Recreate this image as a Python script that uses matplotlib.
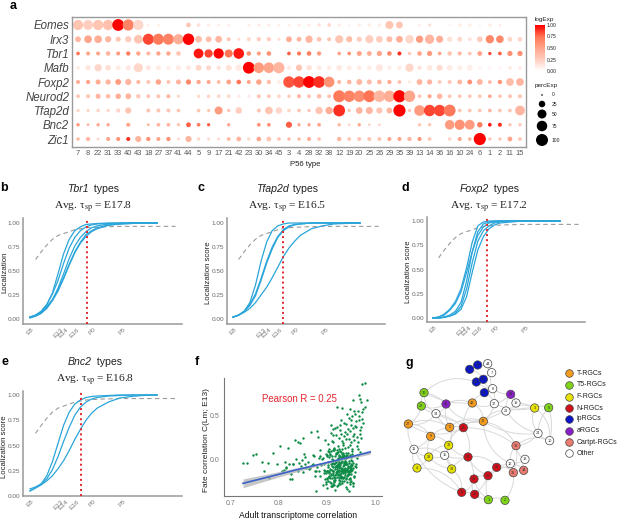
import numpy as np
import matplotlib
matplotlib.use("Agg")
import matplotlib.pyplot as plt
from matplotlib.colors import LinearSegmentedColormap
from matplotlib.patches import FancyArrowPatch

plt.rcParams["font.family"] = ["Liberation Sans", "DejaVu Sans"]
plt.rcParams["mathtext.fontset"] = "stix"

W, H = 617, 521

#----------PANEL A DATA----------
p56_types = ["7", "8", "22", "31", "33", "40", "43", "18", "27", "37", "41", "44", "5", "9", "17",
             "21", "42", "23", "30", "34", "45", "3", "4", "28", "32", "38", "12", "19", "20", "25",
             "26", "29", "35", "39", "13", "14", "36", "16", "10", "24", "6", "1", "2", "11", "15"]
genes = ["Eomes", "Irx3", "Tbr1", "Mafb", "Foxp2", "Neurod2", "Tfap2d", "Bnc2", "Zic1"]

eomes_perc = [50, 45, 50, 52, 70, 62, 50, 1, 1, 0, 0, 6, 3, 2, 1, 1, 0, 1, 2, 2, 1, 1, 2, 2, 2, 3, 2, 1, 2, 2, 2, 28, 18, 0, 1, 2, 0, 1, 2, 2, 1, 2, 1, 0, 0]
eomes_exp = [.3, .25, .3, .33, 1, .68, .2, .1, .1, 0, 0, .3, .15, .1, .1, .1, 0, .1, .1, .1, .1, .1, .1, .1, .15, .2, .1, .05, .1, .1, .1, .3, .3, 0, .1, .15, 0, .05, .1, .1, .05, .1, .1, 0, 0]
irx3_perc = [12, 25, 25, 15, 8, 15, 35, 60, 60, 60, 50, 65, 18, 12, 18, 4, 2, 4, 5, 5, 2, 12, 7, 22, 7, 4, 28, 14, 9, 28, 18, 13, 18, 32, 22, 40, 20, 9, 7, 3, 12, 30, 24, 7, 6]
irx3_exp = [.4, .5, .45, .4, .3, .25, .3, .85, .72, .68, .45, 1, .35, .35, .4, .3, .15, .2, .25, .25, .15, .45, .4, .4, .3, .3, .3, .35, .25, .25, .25, .35, .45, .2, .55, .4, .45, .15, .2, .15, .25, .65, .65, .2, .2]
tbr1_perc = [3, 4, 4, 6, 4, 5, 5, 4, 5, 5, 6, 0, 45, 30, 50, 28, 55, 6, 4, 6, 0, 3, 4, 6, 5, 0, 3, 3, 8, 7, 9, 6, 4, 2, 6, 9, 3, 6, 4, 3, 7, 2, 3, 9, 9]
tbr1_exp = [.75, .5, .5, .4, .55, .7, .5, .4, .5, .5, .3, 0, .95, .85, 1, .75, .95, .6, .55, .6, 0, .8, .75, .7, .55, 0, .5, .6, .5, .45, .5, .65, .9, .3, .5, .55, .5, .3, .4, .3, .5, .85, .8, .6, .6]
mafb_perc = [3, 10, 22, 12, 8, 7, 38, 8, 8, 5, 9, 6, 12, 8, 5, 12, 18, 70, 55, 55, 62, 5, 15, 10, 7, 5, 10, 7, 6, 6, 20, 4, 5, 30, 5, 10, 13, 12, 9, 13, 5, 3, 2, 3, 3]
mafb_exp = [.1, .12, .2, .15, .1, .12, .2, .12, .1, .08, .1, .12, .2, .2, .15, .15, .1, 1, .55, .5, .4, .1, .3, .15, .1, .1, .12, .1, .1, .1, .12, .1, .1, .2, .15, .12, .18, .1, .08, .08, .05, .05, .05, .1, .1]
foxp2_perc = [4, 5, 8, 9, 12, 14, 4, 4, 10, 4, 8, 9, 5, 4, 3, 7, 6, 4, 10, 5, 3, 65, 65, 70, 68, 55, 4, 6, 12, 8, 6, 5, 3, 2, 12, 9, 3, 4, 7, 7, 12, 3, 5, 25, 25]
foxp2_exp = [.45, .5, .45, .4, .55, .4, .4, .3, .5, .3, .4, .65, .5, .5, .4, .5, .75, .5, .5, .35, .1, .82, .85, 1, .9, .6, .4, .4, .4, .35, .4, .45, .35, .1, .4, .4, .3, .3, .4, .6, .4, .4, .6, .35, .4]
neurod2_perc = [3, 4, 8, 6, 10, 12, 5, 4, 4, 4, 2, 0, 2, 3, 3, 3, 2, 2, 4, 3, 3, 2, 4, 4, 6, 4, 72, 65, 65, 70, 65, 65, 75, 65, 3, 4, 10, 3, 3, 3, 3, 3, 3, 4, 4]
neurod2_exp = [.3, .3, .4, .35, .45, .4, .3, .3, .3, .4, .2, 0, .2, .2, .2, .2, .1, .1, .3, .3, .2, .3, .4, .3, .35, .3, .72, .68, .62, .75, .4, .45, 1, .5, .3, .5, .4, .3, .3, .3, .3, .5, .3, .3, .3]
tfap2d_perc = [2, 2, 3, 2, 5, 14, 0, 4, 4, 4, 3, 0, 3, 2, 28, 2, 16, 0, 4, 25, 16, 3, 3, 2, 22, 22, 70, 2, 18, 20, 14, 12, 75, 2, 55, 65, 65, 70, 3, 3, 3, 3, 3, 3, 45]
tfap2d_exp = [.2, .2, .2, .2, .2, .3, 0, .3, .3, .3, .3, 0, .3, .3, .55, .3, .25, 0, .3, .3, .2, .2, .3, .3, .3, .45, .9, .3, .4, .4, .3, .4, 1, .3, .55, .85, .85, .72, .3, .3, .3, .4, .3, .3, .4]
bnc2_perc = [2, 1, 2, 2, 0, 4, 0, 1, 3, 3, 2, 7, 3, 2, 0, 2, 0, 0, 3, 3, 0, 14, 2, 2, 3, 0, 2, 1, 2, 1, 1, 0, 0, 0, 2, 2, 0, 42, 50, 45, 10, 3, 4, 2, 2]
bnc2_exp = [.6, .4, .5, .5, 0, .5, 0, .4, .4, .4, .3, .8, .7, .8, 0, .5, 0, 0, .6, .6, 0, .8, .5, .5, .5, 0, .4, .2, .5, .2, .2, 0, 0, 0, .3, .3, 0, .55, .6, .55, .7, .95, .9, .3, .3]
zic1_perc = [2, 5, 1, 4, 4, 4, 14, 5, 4, 5, 1, 14, 2, 1, 1, 3, 7, 2, 6, 7, 3, 2, 2, 4, 3, 0, 5, 3, 4, 4, 4, 4, 4, 5, 4, 3, 0, 3, 4, 3, 75, 2, 2, 7, 3]
zic1_exp = [.4, .4, .2, .5, .6, .9, .4, .6, .5, .6, .2, .4, .2, .2, .2, .4, .4, .2, .5, .3, .3, .4, .4, .45, .3, 0, .4, .3, .3, .3, .3, .5, .5, .4, .6, .3, 0, .2, .5, .4, 1, .3, .3, .5, .3]

perc_rows = [eomes_perc, irx3_perc, tbr1_perc, mafb_perc, foxp2_perc, neurod2_perc, tfap2d_perc, bnc2_perc, zic1_perc]
exp_rows = [eomes_exp, irx3_exp, tbr1_exp, mafb_exp, foxp2_exp, neurod2_exp, tfap2d_exp, bnc2_exp, zic1_exp]

#----------PANELS B-E DATA----------
stage_days = [8, 13, 14, 16, 19.2, 24.5]
stage_labels = ["E8", "E13", "E14", "E16", "P0", "P5"]
curve_days = [8, 9, 10, 11, 12, 13, 14, 15, 16, 17, 18, 19, 20, 22, 24, 26, 28, 30.7]
dash_days = [9, 10, 11, 12, 13, 14, 15, 16, 17, 18, 19, 21, 24, 28, 34]
dash_score = [.62, .70, .77, .83, .87, .89, .91, .93, .94, .95, .955, .96, .965, .965, .965]

tbr1_curves = [
    [.02, .04, .08, .15, .27, .47, .68, .83, .92, .96, .985, .99, .995, 1, 1, 1, 1, 1],
    [.02, .04, .08, .15, .26, .40, .58, .74, .85, .92, .96, .98, .99, .995, 1, 1, 1, 1],
    [.02, .03, .06, .12, .20, .32, .47, .63, .76, .85, .91, .95, .97, .99, .995, 1, 1, 1],
    [.01, .03, .06, .11, .19, .29, .42, .56, .69, .79, .86, .91, .94, .975, .99, .995, 1, 1],
    [.02, .04, .07, .13, .20, .30, .43, .57, .70, .80, .88, .92, .95, .98, .99, .995, 1, 1],
]
tfap2d_curves = [
    [.02, .04, .08, .17, .35, .60, .80, .92, .97, .99, 1, 1, 1, 1, 1, 1, 1, 1],
    [.02, .04, .08, .15, .26, .42, .60, .75, .86, .93, .97, .985, .99, 1, 1, 1, 1, 1],
    [.02, .04, .08, .14, .24, .40, .58, .73, .85, .92, .96, .98, .99, 1, 1, 1, 1, 1],
    [.02, .04, .07, .11, .17, .25, .33, .43, .54, .65, .74, .81, .87, .94, .97, .99, .995, 1],
]
foxp2_curves = [
    [0, .01, .04, .09, .17, .30, .52, .78, .95, .99, 1, 1, 1, 1, 1, 1, 1, 1],
    [0, .01, .03, .08, .15, .27, .47, .68, .85, .94, .98, .99, 1, 1, 1, 1, 1, 1],
    [0, 0, .01, .03, .07, .16, .38, .68, .89, .97, .99, 1, 1, 1, 1, 1, 1, 1],
    [0, 0, .01, .02, .05, .12, .30, .57, .79, .90, .95, .98, .99, 1, 1, 1, 1, 1],
    [0, 0, .005, .02, .04, .09, .22, .47, .70, .84, .92, .96, .98, .99, 1, 1, 1, 1],
]
bnc2_curves = [
    [.05, .08, .12, .20, .34, .52, .70, .83, .91, .95, .975, .985, .99, .995, 1, 1, 1, 1],
    [.07, .09, .12, .17, .26, .39, .54, .68, .80, .88, .93, .96, .975, .99, .995, 1, 1, 1],
    [.05, .08, .11, .15, .20, .27, .35, .45, .56, .66, .75, .82, .87, .93, .97, .985, .995, 1],
]

#----------PANEL F DATA----------
sparse_x = [.724, .733, .746, .752, .765, .769, .777, .788, .779, .795, .802, .807, .812, .814, .818, .823, .827, .829,
            .833, .84, .843, .85, .847, .854, .857, .867, .879, .877, .871, .874, .885, .881, .896, .909, .912, .921,
            .931, .947, .954, .966, .968, .97, .984, .973, .98, .98, .975, .965, .957]
sparse_y = [-.03, -.03, .056, .068, -.02, -.13, -.03, .075, -.2, -.05, .16, -.12, -.02, -.09, .14, -.22, -.22, -.04,
            .225, .2, .19, .255, 0, -.04, -.09, .32, .33, -.35, .055, -.13, .11, .26, .225, .395, .357, .6,
            .59, .575, .677, .733, .695, .658, .677, .865, .87, .6, .575, .56, .56]
wedge_x = [.905, .912, .918, .923, .927, .931, .935, .938, .942, .946, .95, .954, .958, .962, .966, .97,
           .908, .915, .921, .926, .93, .934, .937, .941, .945, .949, .953, .957, .961, .965, .969, .973,
           .91, .917, .924, .929, .933, .936, .94, .944, .948, .952, .956, .96, .964, .968, .972, .976,
           .903, .913, .92, .928, .932, .939, .943, .947, .951, .955, .959, .963, .967, .971]
wedge_y = [.12, .2, .28, .16, .34, .22, .42, .14, .3, .48, .2, .36, .52, .26, .45, .38,
           .31, .14, .38, .25, .46, .17, .32, .52, .24, .4, .13, .3, .44, .2, .34, .55,
           .22, .36, .12, .3, .19, .27, .41, .15, .33, .5, .23, .37, .12, .29, .47, .42,
           .18, .28, .11, .4, .13, .24, .35, .17, .46, .27, .39, .16, .5, .25]
dense_x = [.885, .892, .897, .902, .906, .91, .913, .917, .92, .923, .926, .929, .932, .935, .938, .941,
           .888, .895, .899, .904, .908, .911, .915, .918, .921, .924, .927, .93, .933, .936, .939, .943,
           .945, .948, .951, .954, .957, .96, .894, .901, .907, .912, .916, .919, .922, .925, .928, .931,
           .934, .937, .94, .944, .947, .95, .953, .956, .959, .89, .898, .903, .909, .914, .92, .926,
           .93, .935, .94, .946, .952, .958, .886, .893, .9, .905, .91, .915, .92, .925, .93, .935,
           .94, .945, .95, .955, .896, .902, .908, .913, .918, .923, .928, .933, .938, .943, .948, .953,
           .887, .891, .9, .906, .912, .917, .922, .927, .932, .937, .942, .947, .899, .905, .911, .916,
           .921, .926, .931, .936, .941, .946, .951, .884, .893, .903, .91, .919, .924, .929, .934, .939,
           .944, .949, .954, .9, .907, .914, .922, .928, .933, .938, .943, .948, .955, .962, .968, .897,
           .904, .912, .918, .925, .932, .94, .947, .953, .96, .964, .87, .875, .88, .883, .878, .872,
           .868, .86, .865, .855, .85, .845, .84, .835, .83, .825, .82, .815, .81, .862, .852, .842]
dense_y = [-.18, .02, -.27, -.08, .07, -.2, -.12, .05, -.3, -.05, -.16, .09, -.24, -.02, -.11, -.33,
           -.06, -.22, .04, -.14, -.29, -.03, -.19, .08, -.1, -.26, .01, -.15, -.21, .06, -.31, -.07,
           -.13, -.25, .03, -.09, -.18, -.04, -.11, -.32, .06, -.17, -.23, -.01, -.28, -.08, .1, -.13,
           -.2, .03, -.05, -.16, -.27, -.1, .05, -.19, -.14, .01, -.25, -.06, -.17, -.24, .08, -.03,
           -.09, -.12, -.21, -.35, -.01, -.07, .04, -.04, -.12, -.18, -.3, .11, -.15, -.23, -.02, -.1,
           .02, -.16, -.09, -.26, -.12, -.24, .1, -.03, -.07, -.13, -.19, .03, -.01, -.09, -.2, .07,
           -.04, -.28, .06, -.25, -.15, -.34, -.06, .03, -.11, -.17, -.05, -.22, -.12, -.19, .01, -.08,
           -.13, -.07, .05, -.03, -.1, -.16, -.24, -.12, -.15, .1, -.29, -.02, -.05, -.2, -.1, .04,
           -.14, -.07, -.3, -.22, -.11, .12, .0, -.18, .08, -.04, -.12, .06, -.26, .02, .09, .07,
           .09, .11, -.16, .05, .03, .08, -.11, .1, -.08, .06, -.05, -.18, -.08, .02, -.13, .04,
           -.06, -.02, -.09, .03, -.14, -.07, -.12, .01, -.05, -.16, -.04, -.08, -.11, -.1, .07, -.03]
core_x = [.905, .912, .918, .924, .93, .936, .942, .948, .915, .922,
          .928, .934, .94, .946, .91, .916, .92, .926, .932, .938,
          .944, .95, .908, .914, .919, .925, .931, .937, .943, .949,
          .903, .911, .917, .923, .929, .935, .941, .947, .953, .906,
          .913, .921, .927, .933, .939, .945, .951, .909, .918, .924,
          .93, .936, .942, .948, .901, .907, .915, .922, .928, .934,
          .94, .946, .952, .912, .92, .926, .932, .938, .944, .95,
          .905, .913, .919, .925, .931, .937, .943, .898, .904, .91,
          .916, .923, .929, .935, .941, .947, .955, .908, .917, .927,
          .933, .939, .945, .912, .921, .93, .936, .942, .902, .915]
core_y = [-.15, -.08, -.02, -.2, -.12, -.05, -.18, -.09, -.25, .02,
          -.06, -.14, -.22, -.03, -.11, -.17, .0, -.09, -.01, -.15,
          .03, -.13, -.04, -.23, -.07, -.13, -.19, .01, -.08, -.16,
          -.12, .04, -.1, -.17, -.03, -.24, -.13, .05, -.11, -.21,
          -.01, -.06, -.24, .05, -.04, -.14, .0, -.16, -.14, .06,
          -.09, -.19, .03, -.07, -.21, -.1, -.05, -.13, -.16, -.07,
          -.11, -.01, -.06, -.27, -.19, -.12, .07, -.09, -.17, -.04,
          -.19, -.13, .07, -.02, -.26, -.14, .08, -.15, .03, -.07,
          -.21, .09, -.18, -.06, .06, -.12, -.03, -.26, -.03, -.27,
          -.15, -.02, -.22, .0, -.08, -.11, .03, -.25, -.02, -.28]
fit_x = [.725, .78, .83, .88, .93, .99]
fit_y = [-.265, -.19, -.12, -.055, .01, .09]
fit_lo = [-.315, -.225, -.145, -.07, -.002, .065]
fit_hi = [-.215, -.155, -.095, -.04, .022, .115]

#----------PANEL G DATA----------
node_labels = ["31", "33", "40", "43", "23", "44", "7", "8", "41", "45", "42", "17", "5", "9", "27", "37", "19", "21",
               "34", "24", "10", "11", "15", "12", "13", "30", "22", "6", "1", "2", "3", "32", "28", "4", "38",
               "18", "20", "25", "26", "29", "35", "16", "39", "36", "14"]
node_x = [209, 233, 229, 250, 253, 263, 275, 278, 332, 138, 217, 250, 149, 92, 25, 283, 348, 318,
          108, 414, 449, 42, 134, 331, 375, 72, 64, 446, 265, 315, 404, 146, 86, 51, 155,
          190, 204, 290, 264, 222, 185, 224, 348, 340, 371]
node_y = [88, 75, 126, 118, 158, 71, 98, 146, 163, 192, 189, 244, 262, 289, 252, 191, 189, 213,
          221, 280, 302, 328, 346, 371, 358, 158, 198, 203, 479, 481, 204, 316, 351, 384, 387,
          263, 351, 382, 407, 417, 457, 463, 317, 398, 391]
node_groups = ["ip", "ip", "ip", "ip", "ip", "o", "o", "o", "a", "a", "T", "T", "T", "T", "T", "o", "o", "o",
               "o", "o", "o", "o", "o", "o", "o", "T5", "T5", "T5", "T5", "T5", "F", "F", "F", "F", "F",
               "N", "N", "N", "N", "N", "N", "N", "C", "C", "C"]
edges = [("31", "33"), ("31", "43"), ("33", "44"), ("33", "7"), ("40", "43"), ("43", "7"), ("40", "8"), ("23", "8"),
         ("43", "8"), ("44", "7"), ("7", "8"), ("8", "37"), ("23", "42"), ("23", "37"), ("40", "30"), ("41", "19"),
         ("41", "21"), ("41", "37"), ("8", "41"), ("45", "42"), ("42", "37"), ("42", "17"), ("42", "18"), ("42", "30"),
         ("45", "30"), ("45", "22"), ("45", "17"), ("45", "34"), ("45", "5"), ("22", "30"), ("22", "34"), ("22", "27"),
         ("30", "34"), ("34", "27"), ("34", "5"), ("34", "18"), ("34", "17"), ("27", "5"), ("27", "18"), ("27", "9"),
         ("27", "11"), ("5", "18"), ("5", "9"), ("5", "32"), ("17", "18"), ("17", "21"), ("17", "37"), ("17", "3"),
         ("17", "24"), ("17", "39"), ("17", "5"), ("21", "3"), ("21", "24"), ("19", "3"), ("37", "3"), ("3", "6"),
         ("3", "24"), ("3", "10"), ("6", "24"), ("6", "10"), ("24", "10"), ("24", "39"), ("10", "39"), ("9", "32"),
         ("9", "28"), ("9", "11"), ("11", "28"), ("11", "15"), ("11", "4"), ("28", "32"), ("28", "15"), ("28", "4"),
         ("28", "38"), ("32", "15"), ("32", "38"), ("32", "18"), ("32", "20"), ("15", "38"), ("15", "20"), ("18", "20"),
         ("18", "32"), ("20", "25"), ("20", "26"), ("20", "29"), ("20", "38"), ("25", "26"), ("25", "12"), ("25", "36"),
         ("26", "29"), ("26", "16"), ("26", "1"), ("26", "12"), ("29", "16"), ("29", "35"), ("29", "1"), ("35", "16"),
         ("16", "1"), ("1", "2"), ("2", "12"), ("38", "35"), ("11", "35"), ("12", "36"), ("12", "13"), ("12", "39"),
         ("13", "14"), ("13", "39"), ("14", "36"), ("39", "36"), ("39", "18"), ("12", "14"), ("17", "12"), ("4", "35")]
edge_bends = [.18, -.25, .3, -.3, .2, -.15]

group_keys = ["T", "T5", "F", "N", "ip", "a", "C", "o"]
group_names = ["T-RGCs", "T5-RGCs", "F-RGCs", "N-RGCs", "ipRGCs", "aRGCs", "Cartpt-RGCs", "Other"]
group_colors = ["#f39c1f", "#7fd41a", "#e8e200", "#d10f1a", "#0a14c8", "#8a1fc8", "#ea7b70", "white"]

fig = plt.figure(figsize=(W / 100, H / 100), dpi=100)
fig.patch.set_facecolor("white")


def px_axes(left, top, right, bottom):
    return fig.add_axes([left / W, 1 - bottom / H, (right - left) / W, (bottom - top) / H])


def px_text(x, y, s, **kw):
    kw.setdefault("ha", "center")
    kw.setdefault("va", "center")
    return fig.text(x / W, 1 - y / H, s, **kw)


#----------DOT PLOT----------
cmap = LinearSegmentedColormap.from_list("white_red", ["#ffffff", "#ffcdbd", "#ffa58b", "#ff7555", "#ff0000"])
ax = px_axes(72, 17, 526, 147)
ax.set_xlim(-0.6, 44.6)
ax.set_ylim(8.56, -0.56)
perc = np.array(perc_rows, dtype=float)
expr = np.array(exp_rows, dtype=float)
col_idx, row_idx = np.meshgrid(np.arange(len(p56_types)), np.arange(len(genes)))
show = perc > 0
diam_px = 1.6 + 12.2 * np.sqrt(perc / 100)
ax.scatter(col_idx[show], row_idx[show], s=(diam_px[show] * 0.72) ** 2, c=expr[show], cmap=cmap,
           vmin=0, vmax=1, linewidths=0)
ax.set_xticks(range(len(p56_types)), p56_types, fontsize=5.4, color="#555555")
ax.set_yticks(range(len(genes)), genes, fontsize=8.3, style="italic", color="#444444")
ax.tick_params(axis="both", length=0, pad=2)
for sp in ax.spines.values():
    sp.set_color("#9a9a9a")
    sp.set_linewidth(1)
px_text(305, 165, "P56 type", fontsize=5.6, color="#222222")

# colour legend
px_text(535, 20, "logExp", fontsize=4.6, ha="left", color="#222222")
cax = px_axes(535, 25, 544, 71)
cax.imshow(np.linspace(1, 0, 100)[:, None], aspect="auto", cmap=cmap, vmin=0, vmax=1, extent=[0, 1, 0, 1])
cax.set_xticks([])
cax.yaxis.tick_right()
cax.set_yticks([0, .25, .5, .75, 1], ["0.00", "0.25", "0.50", "0.75", "1.00"], fontsize=3.6, color="#222222")
cax.tick_params(axis="y", length=0, pad=2)
for sp in cax.spines.values():
    sp.set_visible(False)

# size legend
legend_perc = [0, 25, 50, 75, 100]
px_text(535, 85, "percExp", fontsize=4.6, ha="left", color="#222222")
sax = px_axes(535, 90, 565, 148)
sax.set_xlim(535, 565)
sax.set_ylim(148, 90)
sax.axis("off")
sax.scatter([542] * 5, [95, 104, 114, 126, 140], s=[(d * .72) ** 2 for d in [1.6, 6.5, 9, 10.5, 12]], c="black", linewidths=0)
for yy, lab in zip([95, 104, 114, 126, 140], legend_perc):
    sax.text(552, yy, str(lab), fontsize=3.6, va="center", ha="left", color="#222222")


#----------TIMING PANELS----------
def centered_title(x, y, gene):
    # italic gene name followed by plain word, centred as one string
    first = px_text(x, y, gene, fontsize=7.6, style="italic", color="#222222", ha="left")
    second = px_text(x, y, " types", fontsize=7.6, color="#222222", ha="left")
    rend = fig.canvas.get_renderer()
    w1 = first.get_window_extent(rend).width
    w2 = second.get_window_extent(rend).width
    start = x - (w1 + w2 + 2) / 2
    first.set_x(start / W)
    second.set_x((start + w1 + 2) / W)


def timing_panel(box, curves, gene, tau, line_day, ylabel, label_xy, title_x, title_y):
    left, top, right, bottom, y_one, y_zero, e8_px = box
    a = px_axes(left, top, right, bottom)
    unit = y_zero - y_one
    a.set_ylim((y_zero - bottom) / unit, (y_zero - top) / unit)
    a.set_xlim(8 + (left - e8_px) / 5.6, 8 + (right - e8_px) / 5.6)
    a.plot(dash_days, dash_score, color="#9a9a9a", lw=0.8, ls=(0, (4, 3)), zorder=1)
    for c in curves:
        a.plot(curve_days, c, color="#2aa5da", lw=0.9, zorder=2)
    a.axvline(line_day, color="#e3262e", lw=1.4, ls=(0, (1, 1.6)), zorder=3)
    a.set_xticks(stage_days, stage_labels, rotation=45, fontsize=4.6, color="#777777", ha="center")
    a.set_yticks([0, .25, .5, .75, 1], ["0.00", "0.25", "0.50", "0.75", "1.00"], fontsize=4.6, color="#666666")
    a.tick_params(axis="both", length=0, pad=2)
    a.spines["top"].set_visible(False)
    a.spines["right"].set_visible(False)
    for s in ["left", "bottom"]:
        a.spines[s].set_color("#999999")
        a.spines[s].set_linewidth(1.1)
    px_text(label_xy[0], label_xy[1], ylabel, rotation=90, fontsize=5.6, color="#222222")
    centered_title(title_x, title_y, gene)
    px_text(title_x, title_y + 18, "Avg. τ$_{\\mathrm{sp}}$ = " + tau, fontsize=8.2,
            family="Liberation Serif", color="#222222")


timing_panel((23, 218, 182, 324, 223, 319, 30), tbr1_curves, "Tbr1", "E17.8", 18.1, "Localization", (5, 272), 93, 189)
timing_panel((227, 218, 385, 324, 223, 319, 233), tfap2d_curves, "Tfap2d", "E16.5", 16.9, "Localization score", (209, 273), 287, 189)
timing_panel((427, 217, 585, 322, 221, 318, 433), foxp2_curves, "Foxp2", "E17.2", 17.6, "Localization score", (409, 272), 489, 189)
timing_panel((23, 391, 182, 496, 395, 496, 30), bnc2_curves, "Bnc2", "E16.8", 17.1, "Localization score", (5, 447), 95, 362)

#----------SCATTER----------
af = px_axes(224, 378, 382, 496)
af.set_xlim(.7 + (224 - 231) / 480, .7 + (382 - 231) / 480)
af.set_ylim((460 - 496) / 88, (460 - 378) / 88)
af.scatter(sparse_x + wedge_x + dense_x + core_x, sparse_y + wedge_y + dense_y + core_y,
           s=3, c="#0b8a45", marker="o", linewidths=0, zorder=2)
af.fill_between(fit_x, fit_lo, fit_hi, color="#b5b5b5", alpha=.75, linewidth=0, zorder=3)
af.plot(fit_x, fit_y, color="#3a62c8", lw=1.2, zorder=4)
af.set_xticks([.7, .8, .9, 1.0], ["0.7", "0.8", "0.9", "1.0"], fontsize=5, color="#777777")
af.set_yticks([0, .5], ["0.0", "0.5"], fontsize=5, color="#777777")
af.tick_params(axis="both", length=0, pad=3)
af.spines["top"].set_visible(False)
af.spines["right"].set_visible(False)
for s in ["left", "bottom"]:
    af.spines[s].set_color("#777777")
px_text(299, 399, "Pearson R = 0.25", fontsize=6.9, color="#e3262e")
px_text(298, 516, "Adult transcriptome correlation", fontsize=6.2, color="#111111")
px_text(206, 440, "Fate correlation C(Lm; E13)", fontsize=6, rotation=90, color="#222222")

#----------NETWORK----------
ag = px_axes(400, 340, 617, 521)
ag.set_xlim(0, 651)
ag.set_ylim(543, 0)
ag.axis("off")
pos = {lab: (x, y) for lab, x, y in zip(node_labels, node_x, node_y)}
for i, (a_lab, b_lab) in enumerate(edges):
    arc = FancyArrowPatch(pos[a_lab], pos[b_lab], arrowstyle="-", shrinkA=0, shrinkB=0,
                          connectionstyle=f"arc3,rad={edge_bends[i % len(edge_bends)]}",
                          color="#d9d9d9", lw=0.7, zorder=1)
    ag.add_patch(arc)
color_of = dict(zip(group_keys, group_colors))
ag.scatter(node_x, node_y, s=36, c=[color_of[g] for g in node_groups], edgecolors="#444444", linewidths=0.5, zorder=2)
for lab, x, y in zip(node_labels, node_x, node_y):
    ag.text(x, y, lab, fontsize=2.8, ha="center", va="center", color="#333333", zorder=3)
for yy, col, name in zip([100, 135, 170, 205, 237, 272, 306, 340], group_colors, group_names):
    ag.scatter([508], [yy], s=30, c=col, edgecolors="#444444", linewidths=0.5)
    ag.text(530, yy, name, fontsize=5, va="center", ha="left", color="#222222")

#----------PANEL LETTERS----------
for letter, x, y in [("a", 13, 6), ("b", 4, 188), ("c", 201, 188), ("d", 405, 188), ("e", 5, 362), ("f", 197, 362), ("g", 409, 363)]:
    px_text(x, y, letter, fontsize=9, fontweight="bold", color="black")

fig.savefig("out.png", dpi=100)
